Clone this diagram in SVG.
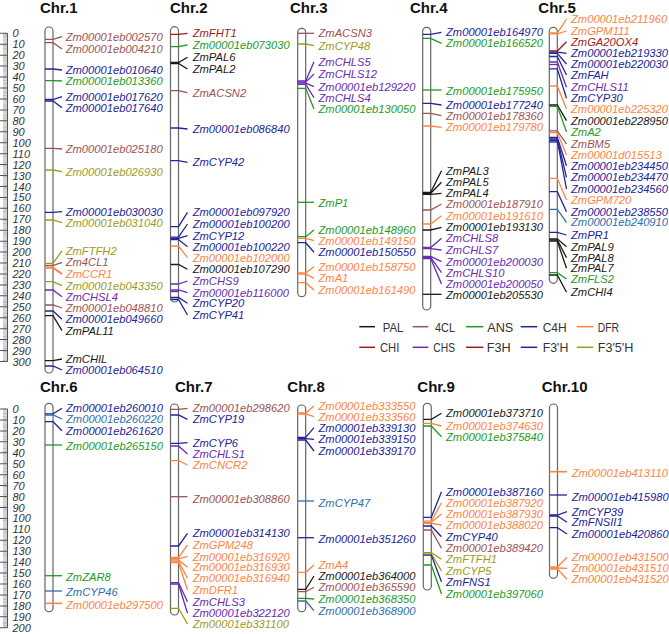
<svg xmlns="http://www.w3.org/2000/svg" width="669" height="634" viewBox="0 0 669 634">
<style>
.k{stroke:#1a1a1a;fill:#1a1a1a}.br{stroke:#9A5454;fill:#9A5454}.g{stroke:#1E9B1E;fill:#1E9B1E}.b{stroke:#23239B;fill:#23239B}.o{stroke:#FF8442;fill:#FF8442}.dr{stroke:#9E1B1B;fill:#9E1B1B}.p{stroke:#6A2BB5;fill:#6A2BB5}.ol{stroke:#9C9C1C;fill:#9C9C1C}.sb{stroke:#2F6DB0;fill:#2F6DB0}
#conn path{fill:none !important;stroke-width:1.3}
text.l{stroke:none;font-family:"Liberation Sans",Arial,sans-serif;font-style:italic;font-size:11.2px}
.chr{fill:#fff;stroke:#666;stroke-width:1.2}
.t{font-family:"Liberation Sans",Arial,sans-serif;font-weight:bold;font-size:15px;fill:#111}
.r{font-family:"Liberation Sans",Arial,sans-serif;font-style:italic;font-size:11px;fill:#333}
.lg{font-family:"Liberation Sans",Arial,sans-serif;font-size:13.5px;fill:#333;stroke:none}
#legend line{stroke-width:1.5}
</style>
<g id="ruler-top">
<line x1="5.25" y1="33" x2="5.25" y2="362" stroke="#aaa" stroke-width="4.5" stroke-dasharray="0.6 0.494"/>
<line x1="3.75" y1="32.8" x2="3.75" y2="362.5" stroke="#555" stroke-width="7.5" stroke-dasharray="1 9.94"/>
<line x1="7.5" y1="33.3" x2="7.5" y2="361.5" stroke="#555" stroke-width="1"/>
<g class="r">
<text x="12.5" y="37.3">0</text><text x="12.5" y="48.2">10</text><text x="12.5" y="59.2">20</text><text x="12.5" y="70.1">30</text><text x="12.5" y="81.1">40</text><text x="12.5" y="92">50</text><text x="12.5" y="102.9">60</text><text x="12.5" y="113.9">70</text><text x="12.5" y="124.8">80</text><text x="12.5" y="135.8">90</text><text x="12.5" y="146.7">100</text><text x="12.5" y="157.6">110</text><text x="12.5" y="168.6">120</text><text x="12.5" y="179.5">130</text><text x="12.5" y="190.5">140</text><text x="12.5" y="201.4">150</text><text x="12.5" y="212.3">160</text><text x="12.5" y="223.3">170</text><text x="12.5" y="234.2">180</text><text x="12.5" y="245.2">190</text><text x="12.5" y="256.1">200</text><text x="12.5" y="267">210</text><text x="12.5" y="278">220</text><text x="12.5" y="288.9">230</text><text x="12.5" y="299.9">240</text><text x="12.5" y="310.8">250</text><text x="12.5" y="321.7">260</text><text x="12.5" y="332.7">270</text><text x="12.5" y="343.6">280</text><text x="12.5" y="354.6">290</text><text x="12.5" y="365.5">300</text>
</g>
</g>
<g id="ruler-bottom">
<line x1="5.25" y1="408.7" x2="5.25" y2="628.2" stroke="#aaa" stroke-width="4.5" stroke-dasharray="0.6 0.494"/>
<line x1="3.75" y1="408.5" x2="3.75" y2="629" stroke="#555" stroke-width="7.5" stroke-dasharray="1 9.94"/>
<line x1="7.5" y1="409" x2="7.5" y2="627.8" stroke="#555" stroke-width="1"/>
<g class="r">
<text x="12.5" y="413">0</text><text x="12.5" y="423.9">10</text><text x="12.5" y="434.9">20</text><text x="12.5" y="445.8">30</text><text x="12.5" y="456.8">40</text><text x="12.5" y="467.7">50</text><text x="12.5" y="478.6">60</text><text x="12.5" y="489.6">70</text><text x="12.5" y="500.5">80</text><text x="12.5" y="511.5">90</text><text x="12.5" y="522.4">100</text><text x="12.5" y="533.3">110</text><text x="12.5" y="544.3">120</text><text x="12.5" y="555.2">130</text><text x="12.5" y="566.2">140</text><text x="12.5" y="577.1">150</text><text x="12.5" y="588">160</text><text x="12.5" y="599">170</text><text x="12.5" y="609.9">180</text><text x="12.5" y="620.9">190</text><text x="12.5" y="631.8">200</text>
</g>
</g>

<g id="chr1"><text class="t" x="40" y="12.7">Chr.1</text><rect class="chr" x="45" y="27" width="8" height="346" rx="4"/></g>
<g id="chr2"><text class="t" x="170" y="12.7">Chr.2</text><rect class="chr" x="170.5" y="26.7" width="8" height="275.3" rx="4"/></g>
<g id="chr3"><text class="t" x="290" y="12.7">Chr.3</text><rect class="chr" x="297.7" y="28.3" width="8" height="268.4" rx="4"/></g>
<g id="chr4"><text class="t" x="410" y="12.7">Chr.4</text><rect class="chr" x="422.7" y="27.3" width="8" height="282.7" rx="4"/></g>
<g id="chr5"><text class="t" x="538.3" y="12.7">Chr.5</text><rect class="chr" x="549.3" y="27.3" width="8" height="256" rx="4"/></g>
<g id="chr6"><text class="t" x="40" y="391.5">Chr.6</text><rect class="chr" x="45" y="403.3" width="8" height="208.4" rx="4"/></g>
<g id="chr7"><text class="t" x="175" y="391.5">Chr.7</text><rect class="chr" x="170.5" y="404" width="8" height="211" rx="4"/></g>
<g id="chr8"><text class="t" x="287.3" y="391.5">Chr.8</text><rect class="chr" x="297.7" y="405" width="8" height="206.7" rx="4"/></g>
<g id="chr9"><text class="t" x="417.3" y="391.5">Chr.9</text><rect class="chr" x="423.3" y="403.3" width="8" height="186.7" rx="4"/></g>
<g id="chr10"><text class="t" x="541.7" y="391.5">Chr.10</text><rect class="chr" x="549.5" y="404" width="8" height="174.3" rx="4"/></g>

<g id="conn">
<!-- Chr1 -->
<path class="br" d="M45,39.3H53L62,36.7"/><path class="br" d="M45,42.7H53L62,49"/>
<path class="b" d="M45,69H53L62,70"/><path class="g" d="M45,80.7H53L62,81"/>
<path class="b" d="M45,99.5H53L62,96.7"/><path class="b" d="M45,101H53L62,107.7"/>
<path class="br" d="M45,148.3H53L62,149"/><path class="ol" d="M45,170H53L62,171.7"/>
<path class="b" d="M45,212.3H53L62,211.7"/><path class="ol" d="M45,220H53L62,222.7"/>
<path class="ol" d="M45,263.3H53L62,250.7"/><path class="br" d="M45,265.5H53L62,262.3"/>
<path class="o" d="M45,267.7H53L62,274" style="stroke-width:2"/>
<path class="ol" d="M45,281.7H53L62,285.7"/><path class="p" d="M45,290H53L62,296.7"/>
<path class="br" d="M45,305H53L62,308"/><path class="b" d="M45,311H53L62,319.3"/>
<path class="k" d="M45,315.7H53L62,330.7"/><path class="k" d="M45,360.7H53L62,359"/>
<path class="b" d="M45,366H53L62,370"/>
<!-- Chr2 -->
<path class="dr" d="M170.5,34.3H178.5L187.5,33.3"/><path class="g" d="M170.5,46.7H178.5L187.5,45"/>
<path class="k" d="M170.5,62.5H178.5L187.5,57.3"/><path class="k" d="M170.5,63.5H178.5L187.5,69"/>
<path class="br" d="M170.5,90.7H178.5L187.5,92.7"/><path class="b" d="M170.5,128H178.5L187.5,129"/>
<path class="b" d="M170.5,160.7H178.5L187.5,162.3"/>
<path class="b" d="M170.5,226.7H178.5L187.5,212.3"/><path class="b" d="M170.5,237.2H178.5L187.5,224"/>
<path class="b" d="M170.5,238.4H178.5L187.5,235.7"/><path class="b" d="M170.5,239.6H178.5L187.5,246.7"/>
<path class="o" d="M170.5,246H178.5L187.5,257.7"/><path class="k" d="M170.5,264.5H178.5L187.5,269.3"/>
<path class="p" d="M170.5,284H178.5L187.5,281"/><path class="p" d="M170.5,290H178.5L187.5,292.7"/>
<path class="p" d="M170.5,291.5H178.5"/>
<path class="b" d="M170.5,297.5H178.5L187.5,303.3"/><path class="b" d="M170.5,299.5H178.5L187.5,315"/>
<!-- Chr3 -->
<path class="br" d="M297.7,33.3H314"/><path class="ol" d="M297.7,44H305.7L314,45.7"/>
<path class="p" d="M297.7,81H305.7L314,61.7"/><path class="p" d="M297.7,82.1H305.7L314,74"/>
<path class="p" d="M297.7,83.2H305.7L314,86.7"/><path class="p" d="M297.7,84.3H305.7L314,97.7"/>
<path class="g" d="M297.7,88.3H305.7L314,109"/><path class="g" d="M297.7,202.3H314"/>
<path class="g" d="M297.7,236.7H305.7L314,230"/><path class="o" d="M297.7,238.3H305.7L314,240.7"/>
<path class="b" d="M297.7,242.7H305.7L314,252.3"/>
<path class="o" d="M297.7,272.8H305.7L314,266.7"/><path class="o" d="M297.7,274H305.7L314,278.3"/>
<path class="o" d="M297.7,282.7H305.7L314,290"/>
<!-- Chr4 -->
<path class="b" d="M422.7,34.3H430.7L441.5,32.3"/><path class="g" d="M422.7,38.3H430.7L441.5,43.3"/>
<path class="g" d="M422.7,90H441.5"/><path class="b" d="M422.7,103.3H430.7L441.5,105"/>
<path class="br" d="M422.7,113.3H430.7L441.5,115.7"/><path class="o" d="M422.7,126H430.7L441.5,127.3"/>
<path class="k" d="M422.7,192.3H430.7L441.5,170.7"/><path class="k" d="M422.7,193.3H430.7L441.5,182.3"/>
<path class="k" d="M422.7,194.3H430.7L441.5,193.3"/>
<path class="br" d="M422.7,210H430.7L441.5,204"/><path class="o" d="M422.7,224H430.7L441.5,215.7"/>
<path class="k" d="M422.7,230H430.7L441.5,227.3"/>
<path class="p" d="M422.7,247.5H430.7L441.5,238.3"/><path class="p" d="M422.7,248.6H430.7L441.5,250"/>
<path class="p" d="M422.7,256.3H430.7L441.5,261.7"/><path class="p" d="M422.7,257.4H430.7L441.5,272.7"/>
<path class="p" d="M422.7,258.5H430.7L441.5,284"/>
<path class="k" d="M422.7,294.3H441.5"/>
<!-- Chr5 -->
<path class="o" d="M549.3,33H557.3L566.5,19"/><path class="o" d="M549.3,33.8H557.3L566.5,31"/>
<path class="dr" d="M549.3,51H557.3L566.5,41.7"/><path class="b" d="M549.3,52.2H557.3L566.5,53.3"/>
<path class="b" d="M549.3,53.4H557.3L566.5,64"/><path class="b" d="M549.3,56.5H557.3L566.5,75"/>
<path class="p" d="M549.3,62H557.3L566.5,87.3"/><path class="p" d="M549.3,64.5H557.3"/>
<path class="b" d="M549.3,68.8H557.3L566.5,98.3"/>
<path class="o" d="M549.3,86H557.3L566.5,109"/><path class="k" d="M549.3,105H557.3L566.5,120.7"/>
<path class="g" d="M549.3,106.3H557.3L566.5,131.7"/>
<path class="br" d="M549.3,130.8H557.3L566.5,144"/><path class="o" d="M549.3,132.6H557.3L566.5,155"/>
<path class="b" d="M549.3,137.5H557.3L566.5,165.7"/><path class="b" d="M549.3,139H557.3L566.5,177.3"/>
<path class="b" d="M549.3,140.5H557.3L566.5,189"/><path class="b" d="M549.3,142H557.3"/>
<path class="o" d="M549.3,178.3H557.3L566.5,200"/><path class="b" d="M549.3,191.7H557.3L566.5,211.7"/>
<path class="sb" d="M549.3,209.3H557.3L566.5,222.3"/><path class="b" d="M549.3,232.3H557.3L566.5,235"/>
<path class="k" d="M549.3,238.8H557.3L566.5,246.7"/><path class="k" d="M549.3,240H557.3L566.5,257.7"/>
<path class="k" d="M549.3,241.2H557.3L566.5,268.3"/>
<path class="g" d="M549.3,272.7H557.3L566.5,279"/><path class="k" d="M549.3,275H557.3L566.5,292.3"/>
<!-- Chr6 -->
<path class="b" d="M45,413.8H53L62,408.3"/><path class="sb" d="M45,415H53L62,419"/>
<path class="b" d="M45,421.7H53L62,430.7"/><path class="g" d="M45,445H62"/>
<path class="g" d="M45,575.7H62"/><path class="sb" d="M45,591H62"/><path class="o" d="M45,603.3H62" style="stroke-width:1.6"/>
<!-- Chr7 -->
<path class="br" d="M170.5,409.3H178.5L187.5,408.3"/><path class="b" d="M170.5,415H178.5L187.5,419.3"/>
<path class="b" d="M170.5,443.3H178.5L187.5,442.7"/><path class="p" d="M170.5,446H178.5L187.5,454"/>
<path class="o" d="M170.5,460.7H178.5L187.5,465"/><path class="br" d="M170.5,496.7H187.5"/>
<path class="b" d="M170.5,546H178.5L187.5,533.3"/>
<path class="o" d="M170.5,557.3H178.5L187.5,545"/><path class="o" d="M170.5,558.6H178.5L187.5,556.7"/>
<path class="o" d="M170.5,559.9H178.5L187.5,567.3"/><path class="o" d="M170.5,561.2H178.5L187.5,578.3"/>
<path class="o" d="M170.5,562.5H178.5L187.5,590"/>
<path class="p" d="M170.5,582.7H178.5L187.5,601.7"/><path class="p" d="M170.5,584H178.5L187.5,613.3"/>
<path class="ol" d="M170.5,608.3H178.5L187.5,624"/>
<!-- Chr8 -->
<path class="o" d="M297.7,413H305.7L314,406"/><path class="o" d="M297.7,414H305.7L314,416.7"/>
<path class="b" d="M297.7,437.4H305.7L314,427.7"/><path class="b" d="M297.7,438.7H305.7L314,439.3"/>
<path class="b" d="M297.7,440H305.7L314,451"/>
<path class="sb" d="M297.7,501H314"/><path class="b" d="M297.7,537.7H314"/>
<path class="o" d="M297.7,572.3H305.7L314,565"/><path class="k" d="M297.7,589.3H305.7L314,576"/>
<path class="br" d="M297.7,591.7H305.7L314,587.3"/><path class="g" d="M297.7,598.3H305.7L314,599"/>
<path class="sb" d="M297.7,601H305.7L314,610.7"/>
<!-- Chr9 -->
<path class="k" d="M423.3,419.3H431.3L441.5,413.3"/><path class="o" d="M423.3,423.3H431.3L441.5,426"/>
<path class="g" d="M423.3,426H431.3L441.5,436.7"/>
<path class="b" d="M423.3,517.3H431.3L441.5,491.7"/><path class="o" d="M423.3,521.2H431.3L441.5,502.7"/>
<path class="o" d="M423.3,522.3H431.3L441.5,514"/><path class="o" d="M423.3,523.4H431.3L441.5,525"/>
<path class="b" d="M423.3,526H431.3L441.5,536.7"/><path class="br" d="M423.3,530H431.3L441.5,548.3"/>
<path class="ol" d="M423.3,552.7H431.3L441.5,559.3"/><path class="ol" d="M423.3,553.9H431.3L441.5,571"/>
<path class="b" d="M423.3,555.1H431.3L441.5,581.7"/><path class="g" d="M423.3,565H431.3L441.5,594"/>
<!-- Chr10 -->
<path class="o" d="M549.5,471.7H567" style="stroke-width:1.6"/><path class="b" d="M549.5,495H567"/>
<path class="b" d="M549.5,515H557.5L567,511.7"/><path class="b" d="M549.5,516H557.5L567,522.3"/>
<path class="b" d="M549.5,527.7H557.5L567,534"/>
<path class="o" d="M549.5,566.8H557.5L567,557.3"/><path class="o" d="M549.5,568H557.5L567,568.3"/>
<path class="o" d="M549.5,569.2H557.5L567,579.3"/>
</g>

<g id="labels-chr1">
<text class="l br" x="65.7" y="40.7">Zm00001eb002570</text><text class="l br" x="65.7" y="53">Zm00001eb004210</text>
<text class="l b" x="65.7" y="74">Zm00001eb010640</text><text class="l g" x="65.7" y="85">Zm00001eb013360</text>
<text class="l b" x="65.7" y="100.7">Zm00001eb017620</text><text class="l b" x="65.7" y="111.7">Zm00001eb017640</text>
<text class="l br" x="65.7" y="153">Zm00001eb025180</text><text class="l ol" x="65.7" y="175.7">Zm00001eb026930</text>
<text class="l b" x="65.7" y="215.7">Zm00001eb030030</text><text class="l ol" x="65.7" y="226.7">Zm00001eb031040</text>
<text class="l ol" x="65.7" y="254.7">ZmFTFH2</text><text class="l br" x="65.7" y="266.3">Zm4CL1</text>
<text class="l o" x="65.7" y="278">ZmCCR1</text><text class="l ol" x="65.7" y="289.7">Zm00001eb043350</text>
<text class="l p" x="65.7" y="300.7">ZmCHSL4</text><text class="l br" x="65.7" y="312">Zm00001eb048810</text>
<text class="l b" x="65.7" y="323.3">Zm00001eb049660</text><text class="l k" x="65.7" y="334.7">ZmPAL11</text>
<text class="l k" x="65.7" y="363">ZmCHIL</text><text class="l b" x="65.7" y="374">Zm00001eb064510</text>
</g>
<g id="labels-chr2">
<text class="l dr" x="192.7" y="37.3">ZmFHT1</text><text class="l g" x="192.7" y="49">Zm00001eb073030</text>
<text class="l k" x="192.7" y="61.3">ZmPAL6</text><text class="l k" x="192.7" y="73">ZmPAL2</text>
<text class="l br" x="192.7" y="96.7">ZmACSN2</text><text class="l b" x="192.7" y="133">Zm00001eb086840</text>
<text class="l b" x="192.7" y="166.3">ZmCYP42</text>
<text class="l b" x="192.7" y="216.3">Zm00001eb097920</text><text class="l b" x="192.7" y="228">Zm00001eb100200</text>
<text class="l b" x="192.7" y="239.7">ZmCYP12</text><text class="l b" x="192.7" y="250.7">Zm00001eb100220</text>
<text class="l o" x="192.7" y="261.7">Zm00001eb102000</text><text class="l k" x="192.7" y="273.3">Zm00001eb107290</text>
<text class="l p" x="192.7" y="285">ZmCHS9</text><text class="l p" x="192.7" y="296.7">Zm00001eb116000</text>
<text class="l b" x="192.7" y="307.3">ZmCYP20</text><text class="l b" x="192.7" y="319">ZmCYP41</text>
</g>
<g id="labels-chr3">
<text class="l br" x="318.5" y="37.3">ZmACSN3</text><text class="l ol" x="318.5" y="49.7">ZmCYP48</text>
<text class="l p" x="318.5" y="65.7">ZmCHLS5</text><text class="l p" x="318.5" y="78">ZmCHLS12</text>
<text class="l p" x="318.5" y="90.7">Zm00001eb129220</text><text class="l p" x="318.5" y="101.7">ZmCHLS4</text>
<text class="l g" x="318.5" y="113">Zm00001eb130050</text><text class="l g" x="318.5" y="206.7">ZmP1</text>
<text class="l g" x="318.5" y="234">Zm00001eb148960</text><text class="l o" x="318.5" y="244.7">Zm00001eb149150</text>
<text class="l b" x="318.5" y="256.3">Zm00001eb150550</text><text class="l o" x="318.5" y="270.7">Zm00001eb158750</text>
<text class="l o" x="318.5" y="282.3">ZmA1</text><text class="l o" x="318.5" y="294">Zm00001eb161490</text>
</g>
<g id="labels-chr4">
<text class="l b" x="446" y="36.3">Zm00001eb164970</text><text class="l g" x="446" y="47.3">Zm00001eb166520</text>
<text class="l g" x="446" y="94.7">Zm00001eb175950</text><text class="l b" x="446" y="109">Zm00001eb177240</text>
<text class="l br" x="446" y="119.7">Zm00001eb178360</text><text class="l o" x="446" y="131.3">Zm00001eb179780</text>
<text class="l k" x="446" y="174.7">ZmPAL3</text><text class="l k" x="446" y="186.3">ZmPAL5</text>
<text class="l k" x="446" y="197.3">ZmPAL4</text><text class="l br" x="446" y="208">Zm00001eb187910</text>
<text class="l o" x="446" y="219.7">Zm00001eb191610</text><text class="l k" x="446" y="231.3">Zm00001eb193130</text>
<text class="l p" x="446" y="242.3">ZmCHLS8</text><text class="l p" x="446" y="254">ZmCHLS7</text>
<text class="l p" x="446" y="265.7">Zm00001eb200030</text><text class="l p" x="446" y="276.7">ZmCHLS10</text>
<text class="l p" x="446" y="288">Zm00001eb200050</text><text class="l k" x="446" y="299">Zm00001eb205530</text>
</g>
<g id="labels-chr5">
<text class="l o" x="571" y="23">Zm00001eb211960</text><text class="l o" x="571" y="35">ZmGPM111</text>
<text class="l dr" x="571" y="45.7">ZmGA20OX4</text><text class="l b" x="571" y="57.3">Zm00001eb219330</text>
<text class="l b" x="571" y="68">Zm00001eb220030</text><text class="l b" x="571" y="79">ZmFAH</text>
<text class="l p" x="571" y="91.3">ZmCHLS11</text><text class="l b" x="571" y="102.3">ZmCYP30</text>
<text class="l o" x="571" y="113">Zm00001eb225320</text><text class="l k" x="571" y="124.7">Zm00001eb228950</text>
<text class="l g" x="571" y="135.7">ZmA2</text><text class="l br" x="571" y="148">ZmBM5</text>
<text class="l o" x="571" y="159">Zm00001d015513</text><text class="l b" x="571" y="169.7">Zm00001eb234450</text>
<text class="l b" x="571" y="181.3">Zm00001eb234470</text><text class="l b" x="571" y="193">Zm00001eb234560</text>
<text class="l o" x="571" y="204">ZmGPM720</text><text class="l b" x="571" y="215.7">Zm00001eb238550</text>
<text class="l sb" x="571" y="226.3">Zm00001eb240910</text><text class="l b" x="571" y="239">ZmPR1</text>
<text class="l k" x="571" y="250.7">ZmPAL9</text><text class="l k" x="571" y="261.7">ZmPAL8</text>
<text class="l k" x="571" y="272.3">ZmPAL7</text><text class="l g" x="571" y="283">ZmFLS2</text>
<text class="l k" x="571" y="296.3">ZmCHI4</text>
</g>
<g id="labels-chr6">
<text class="l b" x="66" y="412.3">Zm00001eb260010</text><text class="l sb" x="66" y="423">Zm00001eb260220</text>
<text class="l b" x="66" y="434.7">Zm00001eb261620</text><text class="l g" x="66" y="450">Zm00001eb265150</text>
<text class="l g" x="66" y="580.7">ZmZAR8</text><text class="l sb" x="66" y="595.7">ZmCYP46</text>
<text class="l o" x="66" y="609">Zm00001eb297500</text>
</g>
<g id="labels-chr7">
<text class="l br" x="192.7" y="412.3">Zm00001eb298620</text><text class="l b" x="192.7" y="423.3">ZmCYP19</text>
<text class="l b" x="192.7" y="446.7">ZmCYP6</text><text class="l p" x="192.7" y="458">ZmCHLS1</text>
<text class="l o" x="192.7" y="469">ZmCNCR2</text><text class="l br" x="192.7" y="503">Zm00001eb308860</text>
<text class="l b" x="192.7" y="537.3">Zm00001eb314130</text><text class="l o" x="192.7" y="549">ZmGPM248</text>
<text class="l o" x="192.7" y="560.7">Zm00001eb316920</text><text class="l o" x="192.7" y="571.3">Zm00001eb316930</text>
<text class="l o" x="192.7" y="582.3">Zm00001eb316940</text><text class="l o" x="192.7" y="594">ZmDFR1</text>
<text class="l p" x="192.7" y="605.7">ZmCHLS3</text><text class="l p" x="192.7" y="617.3">Zm00001eb322120</text>
<text class="l ol" x="192.7" y="628">Zm00001eb331100</text>
</g>
<g id="labels-chr8">
<text class="l o" x="318.5" y="410">Zm00001eb333550</text><text class="l o" x="318.5" y="420.7">Zm00001eb333560</text>
<text class="l b" x="318.5" y="431.7">Zm00001eb339130</text><text class="l b" x="318.5" y="443.3">Zm00001eb339150</text>
<text class="l b" x="318.5" y="455">Zm00001eb339170</text><text class="l sb" x="318.5" y="506.7">ZmCYP47</text>
<text class="l b" x="318.5" y="543">Zm00001eb351260</text><text class="l o" x="318.5" y="569">ZmA4</text>
<text class="l k" x="318.5" y="580">Zm00001eb364000</text><text class="l br" x="318.5" y="591.3">Zm00001eb365590</text>
<text class="l g" x="318.5" y="603">Zm00001eb368350</text><text class="l sb" x="318.5" y="614.7">Zm00001eb368900</text>
</g>
<g id="labels-chr9">
<text class="l k" x="446" y="417.3">Zm00001eb373710</text><text class="l o" x="446" y="430">Zm00001eb374630</text>
<text class="l g" x="446" y="440.7">Zm00001eb375840</text><text class="l b" x="446" y="495.7">Zm00001eb387160</text>
<text class="l o" x="446" y="506.7">Zm00001eb387920</text><text class="l o" x="446" y="518">Zm00001eb387930</text>
<text class="l o" x="446" y="529">Zm00001eb388020</text><text class="l b" x="446" y="540.7">ZmCYP40</text>
<text class="l br" x="446" y="552.3">Zm00001eb389420</text><text class="l ol" x="446" y="563.3">ZmFTFH1</text>
<text class="l ol" x="446" y="575">ZmCYP5</text><text class="l b" x="446" y="585.7">ZmFNS1</text>
<text class="l g" x="446" y="598">Zm00001eb397060</text>
</g>
<g id="labels-chr10">
<text class="l o" x="571.7" y="476.7">Zm00001eb413110</text><text class="l b" x="571.7" y="500.7">Zm00001eb415980</text>
<text class="l b" x="571.7" y="515.7">ZmCYP39</text><text class="l b" x="571.7" y="526.3">ZmFNSII1</text>
<text class="l b" x="571.7" y="538">Zm00001eb420860</text><text class="l o" x="571.7" y="561.3">Zm00001eb431500</text>
<text class="l o" x="571.7" y="572.3">Zm00001eb431510</text><text class="l o" x="571.7" y="583.3">Zm00001eb431520</text>
</g>

<g id="legend">
<line class="k" x1="359.3" y1="326.7" x2="375" y2="326.7"/><text class="lg" x="382.7" y="331.6" textLength="20.7" lengthAdjust="spacingAndGlyphs">PAL</text>
<line class="br" x1="412.7" y1="326.7" x2="428.3" y2="326.7"/><text class="lg" x="435" y="331.6" textLength="20" lengthAdjust="spacingAndGlyphs">4CL</text>
<line class="g" x1="466" y1="326.7" x2="483.3" y2="326.7"/><text class="lg" x="487.3" y="331.6" textLength="26" lengthAdjust="spacingAndGlyphs">ANS</text>
<line class="b" x1="520.7" y1="326.7" x2="537.3" y2="326.7"/><text class="lg" x="542.7" y="331.6" textLength="24" lengthAdjust="spacingAndGlyphs">C4H</text>
<line class="o" x1="576.7" y1="326.7" x2="593.3" y2="326.7"/><text class="lg" x="597.7" y="331.6" textLength="21.3" lengthAdjust="spacingAndGlyphs">DFR</text>
<line class="dr" x1="359.3" y1="347.3" x2="375" y2="347.3"/><text class="lg" x="380" y="352.2" textLength="19.3" lengthAdjust="spacingAndGlyphs">CHI</text>
<line class="p" x1="412.7" y1="347.3" x2="428.3" y2="347.3"/><text class="lg" x="433.3" y="352.2" textLength="21.7" lengthAdjust="spacingAndGlyphs">CHS</text>
<line class="dr" x1="466" y1="347.3" x2="483.3" y2="347.3"/><text class="lg" x="486.7" y="352.2" textLength="24" lengthAdjust="spacingAndGlyphs">F3H</text>
<line class="b" x1="520.7" y1="347.3" x2="537.3" y2="347.3"/><text class="lg" x="542.7" y="352.2" textLength="25.7" lengthAdjust="spacingAndGlyphs">F3'H</text>
<line class="ol" x1="576.7" y1="347.3" x2="593.3" y2="347.3"/><text class="lg" x="597.7" y="352.2" textLength="35.7" lengthAdjust="spacingAndGlyphs">F3'5'H</text>
</g>
</svg>
